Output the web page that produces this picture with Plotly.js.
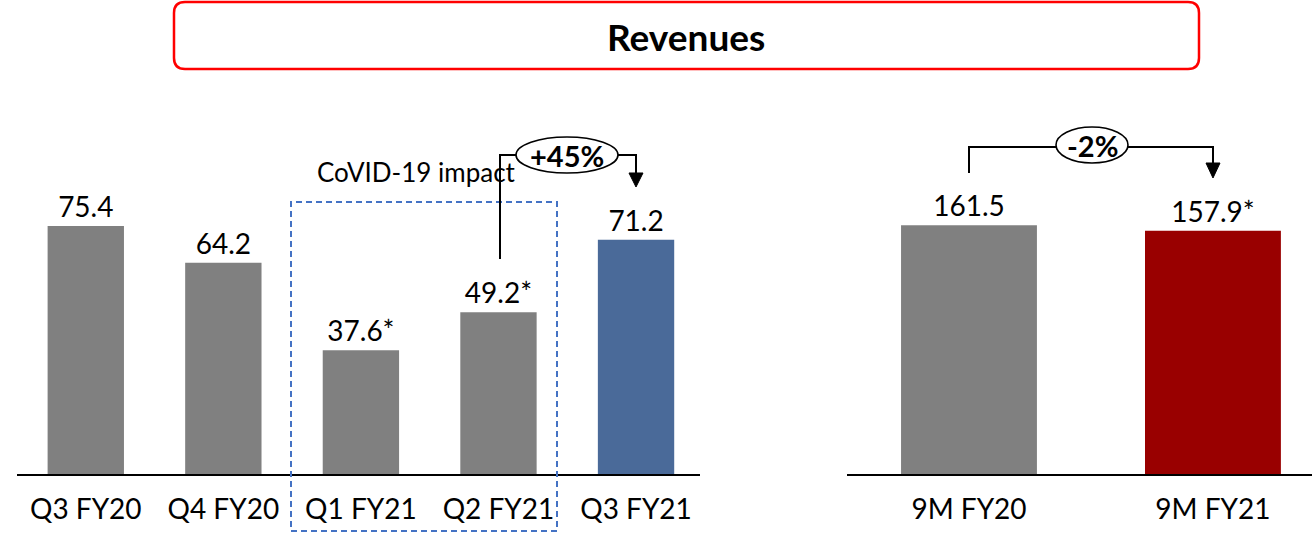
<!DOCTYPE html>
<html>
<head>
<meta charset="utf-8">
<script src="https://cdn.plot.ly/plotly-3.0.1.min.js"></script>
<style>
  html, body { margin: 0; padding: 0; background: #fff; }
  #chart { width: 1312px; height: 533px; }
</style>
</head>
<body>
<div id="chart"></div>
<script>
// ---- Data ----
var quarterCategories = ['Q3 FY20', 'Q4 FY20', 'Q1 FY21', 'Q2 FY21', 'Q3 FY21'];
var quarterValues = [75.4, 64.2, 37.6, 49.2, 71.2];
var quarterLabels = ['75.4', '64.2', '37.6*', '49.2*', '71.2'];
var ninemCategories = ['9M FY20', '9M FY21'];
var ninemValues = [161.5, 157.9];
var ninemLabels = ['161.5', '157.9*'];
var chartTitle = 'Revenues';
var covidText = 'CoVID-19 impact';
var qGrowthText = '+45%';
var nGrowthText = '-2%';

// ---- Style ----
var W = 1312, H = 533, TOP = 80, BASE = 474;
var FONT = 'Lato, "Open Sans", sans-serif';
var GRAY = '#808080', BLUE = '#4A6A99', DARKRED = '#990000';

function px(x) { return x / W; }
function py(y) { return (BASE - y) / (BASE - TOP); }

function roundRectPath(x0, y0, x1, y1, r) {
  function P(x, y) { return px(x).toFixed(5) + ',' + py(y).toFixed(5); }
  return 'M' + P(x0 + r, y0) + ' L' + P(x1 - r, y0) + ' Q' + P(x1, y0) + ' ' + P(x1, y0 + r) +
         ' L' + P(x1, y1 - r) + ' Q' + P(x1, y1) + ' ' + P(x1 - r, y1) +
         ' L' + P(x0 + r, y1) + ' Q' + P(x0, y1) + ' ' + P(x0, y1 - r) +
         ' L' + P(x0, y0 + r) + ' Q' + P(x0, y0) + ' ' + P(x0 + r, y0) + ' Z';
}
function linePath(pts) {
  return pts.map(function (p, i) {
    return (i === 0 ? 'M' : 'L') + px(p[0]).toFixed(5) + ',' + py(p[1]).toFixed(5);
  }).join(' ');
}

var traces = [
  {
    type: 'bar', x: quarterCategories, y: quarterValues,
    text: quarterLabels, textposition: 'outside', cliponaxis: false, constraintext: 'none',
    textfont: { family: FONT, size: 28, color: '#000' },
    marker: { color: [GRAY, GRAY, GRAY, GRAY, BLUE] },
    width: 0.555, xaxis: 'x', yaxis: 'y', hoverinfo: 'x+y'
  },
  {
    type: 'bar', x: ninemCategories, y: ninemValues,
    text: ninemLabels, textposition: 'outside', cliponaxis: false, constraintext: 'none',
    textfont: { family: FONT, size: 28, color: '#000' },
    marker: { color: [GRAY, DARKRED] },
    width: 0.557, xaxis: 'x2', yaxis: 'y2', hoverinfo: 'x+y'
  }
];

var xCommon = {
  type: 'category', showgrid: false, zeroline: false, showline: true,
  linecolor: '#000', linewidth: 1.5, ticks: '', fixedrange: true,
  tickfont: { family: FONT, size: 28, color: '#000' }, ticklabelstandoff: 10
};

var layout = {
  width: W, height: H,
  margin: { l: 0, r: 0, t: TOP, b: H - BASE, pad: 0 },
  paper_bgcolor: '#fff', plot_bgcolor: 'rgba(0,0,0,0)',
  showlegend: false,
  xaxis: Object.assign({}, xCommon, { domain: [px(17), px(700)], range: [-0.5, 4.465], anchor: 'y' }),
  yaxis: { domain: [0, 1], range: [0, 119.8], visible: false, fixedrange: true },
  xaxis2: Object.assign({}, xCommon, { domain: [px(847), 1], range: [-0.5, 1.406], anchor: 'y2' }),
  yaxis2: { domain: [0, 1], range: [0, 255.8], visible: false, fixedrange: true, anchor: 'x2' },
  shapes: [
    // title box
    { type: 'path', xref: 'paper', yref: 'paper', path: roundRectPath(174, 2, 1199, 69, 11),
      line: { color: '#FF0000', width: 2.5 }, fillcolor: 'rgba(0,0,0,0)' },
    // covid dashed box
    { type: 'rect', xref: 'paper', yref: 'paper', x0: px(291), x1: px(557), y0: py(531), y1: py(202),
      line: { color: '#4472C4', width: 2, dash: '6px,4px' }, fillcolor: 'rgba(0,0,0,0)' },
    // +45% bracket
    { type: 'path', xref: 'paper', yref: 'paper', path: linePath([[500, 259], [500, 155], [517, 155]]),
      line: { color: '#000', width: 2 } },
    { type: 'path', xref: 'paper', yref: 'paper', path: linePath([[618, 155], [636, 155], [636, 175]]),
      line: { color: '#000', width: 2 } },
    { type: 'path', xref: 'paper', yref: 'paper', path: linePath([[629, 173], [643, 173], [636, 187]]) + ' Z',
      line: { color: '#000', width: 1 }, fillcolor: '#000' },
    { type: 'circle', xref: 'paper', yref: 'paper', x0: px(516), x1: px(618), y0: py(173), y1: py(137),
      line: { color: '#000', width: 1.6 }, fillcolor: '#fff' },
    // -2% bracket
    { type: 'path', xref: 'paper', yref: 'paper', path: linePath([[969, 173], [969, 147], [1056, 147]]),
      line: { color: '#000', width: 2 } },
    { type: 'path', xref: 'paper', yref: 'paper', path: linePath([[1128, 147], [1213, 147], [1213, 165]]),
      line: { color: '#000', width: 2 } },
    { type: 'path', xref: 'paper', yref: 'paper', path: linePath([[1206, 163], [1220, 163], [1213, 178]]) + ' Z',
      line: { color: '#000', width: 1 }, fillcolor: '#000' },
    { type: 'circle', xref: 'paper', yref: 'paper', x0: px(1056), x1: px(1128), y0: py(163), y1: py(127),
      line: { color: '#000', width: 1.6 }, fillcolor: '#fff' }
  ],
  annotations: [
    { xref: 'paper', yref: 'paper', x: px(686.5), y: py(36), text: '<b>' + chartTitle + '</b>',
      showarrow: false, xanchor: 'center', yanchor: 'middle',
      font: { family: FONT, size: 37, color: '#000' } },
    { xref: 'paper', yref: 'paper', x: px(416), y: py(172), text: covidText,
      showarrow: false, xanchor: 'center', yanchor: 'middle',
      font: { family: FONT, size: 26, color: '#000' } },
    { xref: 'paper', yref: 'paper', x: px(567), y: py(155), text: '<b>' + qGrowthText + '</b>',
      showarrow: false, xanchor: 'center', yanchor: 'middle',
      font: { family: FONT, size: 29, color: '#000' } },
    { xref: 'paper', yref: 'paper', x: px(1092), y: py(145), text: '<b>' + nGrowthText + '</b>',
      showarrow: false, xanchor: 'center', yanchor: 'middle',
      font: { family: FONT, size: 29, color: '#000' } }
  ]
};

Plotly.newPlot('chart', traces, layout, { displayModeBar: false, staticPlot: true });
</script>
</body>
</html>
